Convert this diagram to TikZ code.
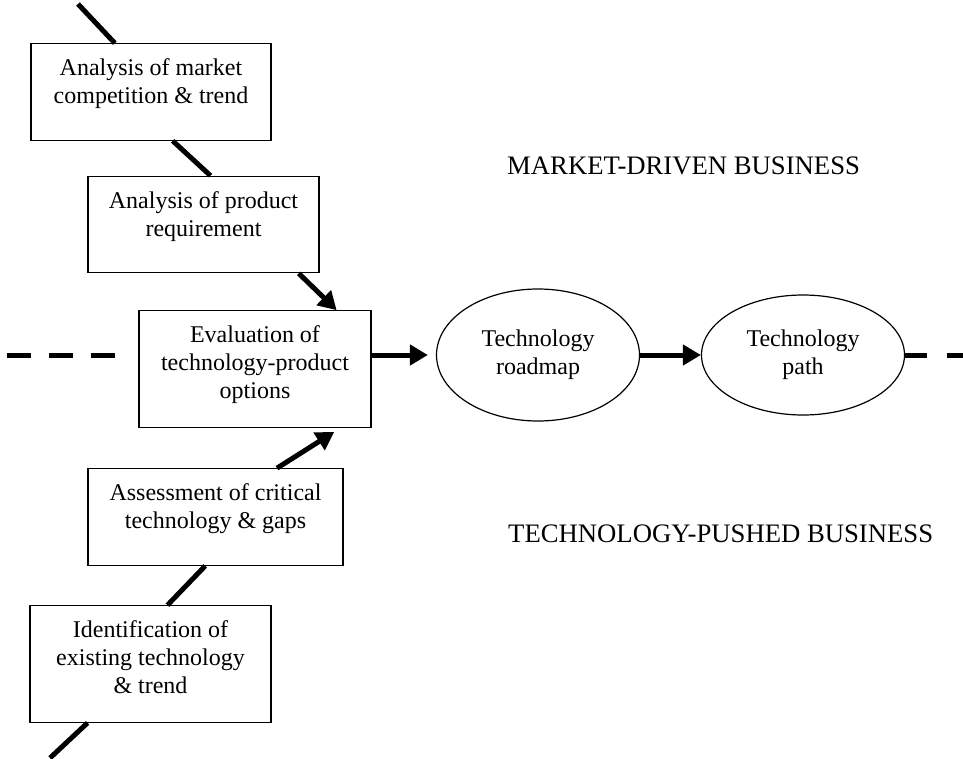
\documentclass[tikz,border=0pt]{standalone}
\usepackage{fontspec}
\setmainfont{Liberation Serif}
\usetikzlibrary{calc}
\usetikzlibrary{shapes.geometric}
\usetikzlibrary{arrows.meta}

\begin{document}
\begin{tikzpicture}[x=1pt, y=-1pt,
    box/.style={draw, line width=1.2pt, align=center, inner xsep=4pt, inner ysep=15pt, text depth=21.6pt, font=\fontsize{24}{28}\selectfont},
    oval/.style={draw, ellipse, line width=1.2pt, align=center, inner sep=0pt, minimum width=203pt, font=\fontsize{24}{28}\selectfont},
    zone/.style={anchor=base west, inner sep=0pt, font=\fontsize{26.7}{30}\selectfont},
    link/.style={line width=5pt},
    flow/.style={line width=5pt, -{Triangle[length=18pt,width=20pt]}},
    gap/.style={line width=5pt, dash pattern=on 24pt off 18pt}]
  \useasboundingbox (0,0) rectangle (963,758);

  % market side
  \node[box, minimum width=240pt] (mc) at (151,92) {Analysis of market\\competition \& trend};
  \node[box, minimum width=231pt] (pr) at (203.5,224.5) {Analysis of product\\requirement};
  \node[box, minimum width=232pt, text depth=13.6pt] (ev) at (255,369) {Evaluation of\\technology-product\\options};
  % technology side
  \node[box, minimum width=255pt] (ct) at (215.5,517) {Assessment of critical\\technology \& gaps};
  \node[box, minimum width=241pt, text depth=13.6pt] (et) at (150.5,664) {Identification of\\existing technology\\\& trend};

  \node[oval, minimum height=132pt] (rm) at (538,355) {Technology\\roadmap};
  \node[oval, minimum height=120pt] (tp) at (803,355) {Technology\\path};

  \node[zone] (mkt) at (507,174) {MARKET-DRIVEN BUSINESS};
  \node[zone] (tch) at (508,542) {TECHNOLOGY-PUSHED BUSINESS};

  \coordinate (top) at (78,4);
  \coordinate (bot) at (50,758);
  \coordinate (l0) at (7,355);
  \coordinate (l1) at (115,355);
  \coordinate (r1) at (963,355);

  \draw[link] (top) -- ($(mc.north west)!0.35!(mc.north east)$);
  \draw[link] ($(mc.south west)!0.59!(mc.south east)$) -- ($(pr.north west)!0.53!(pr.north east)$);
  \draw[flow] ($(pr.south west)!0.91!(pr.south east)$) -- ($(ev.north west)!0.85!(ev.north east)$);
  \draw[flow] ($(ct.north west)!0.74!(ct.north east)$) -- ($(ev.south west)!0.84!(ev.south east)+(0,4)$);
  \draw[link] ($(ct.south west)!0.46!(ct.south east)$) -- ($(et.north west)!0.57!(et.north east)$);
  \draw[link] ($(et.south west)!0.24!(et.south east)$) -- (bot);

  \draw[gap] (l0) -- (l1);
  \draw[flow] (ev.east |- rm.west) -- ([xshift=-8pt]rm.west);
  \draw[flow] (rm.east) -- (tp.west);
  \draw[gap, dash pattern=on 22pt off 20pt] (tp.east) -- (r1);
\end{tikzpicture}
\end{document}
